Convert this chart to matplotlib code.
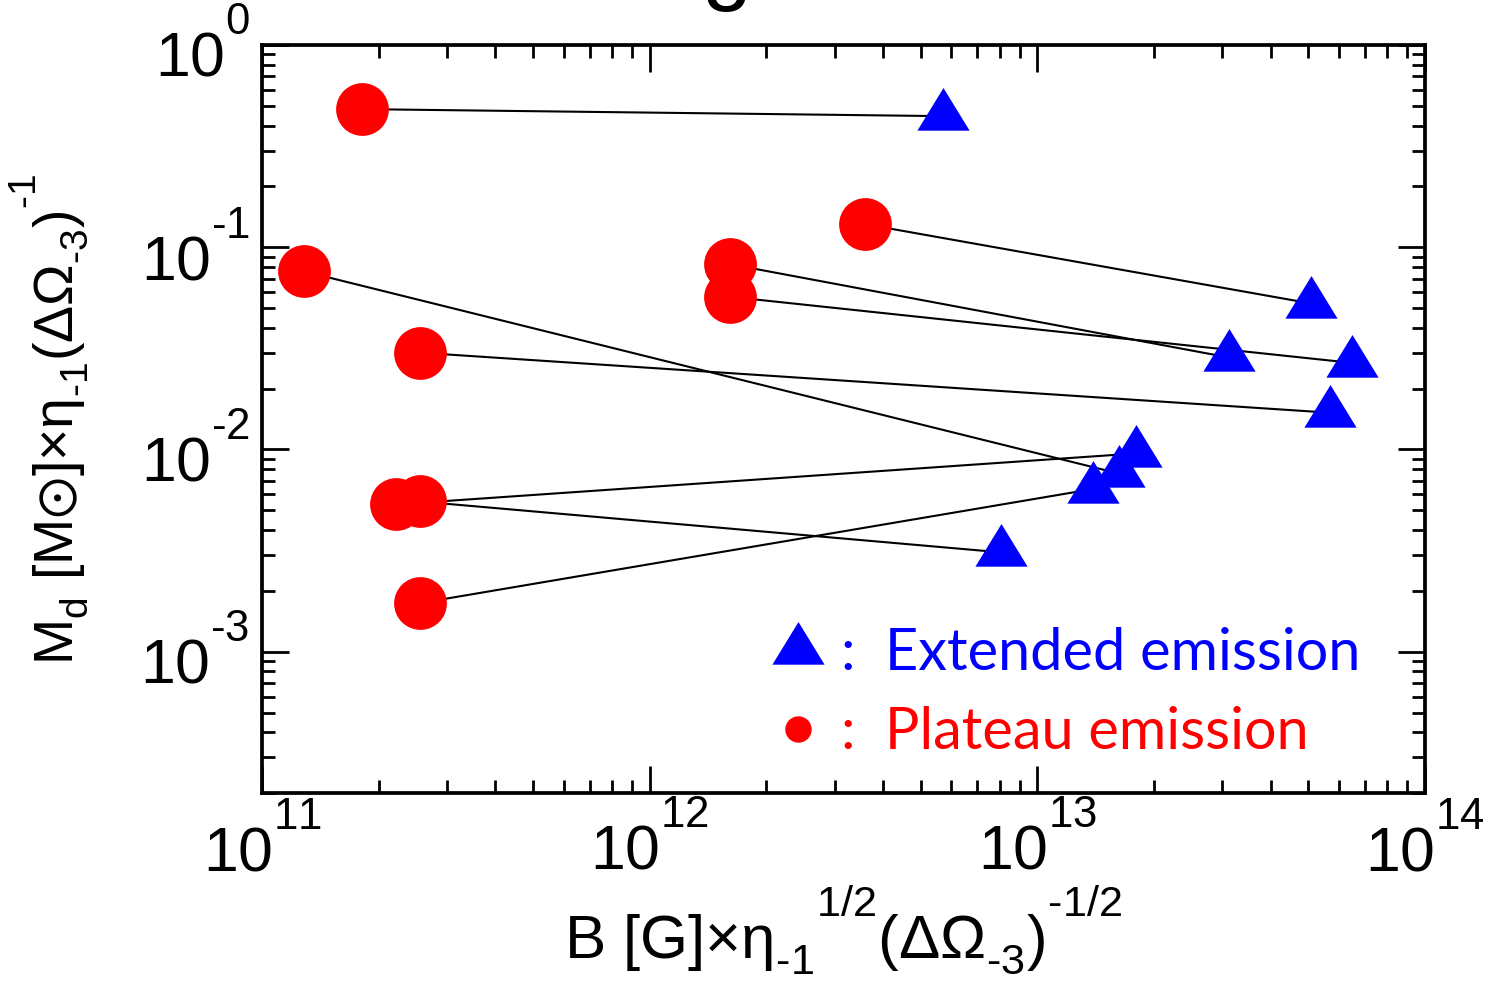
import matplotlib
matplotlib.use("Agg")
import numpy as np
import matplotlib.pyplot as plt
import matplotlib._mathtext as mathtext_internals
from matplotlib.lines import Line2D
from matplotlib.ticker import LogLocator, NullFormatter, FuncFormatter

plt.rcParams["font.family"] = ["Liberation Sans", "DejaVu Sans"]
plt.rcParams["mathtext.fontset"] = "custom"
plt.rcParams["mathtext.rm"] = "Liberation Sans"
plt.rcParams["mathtext.it"] = "Liberation Sans"
plt.rcParams["mathtext.bf"] = "Liberation Sans:bold"
plt.rcParams["mathtext.default"] = "regular"
plt.rcParams["axes.unicode_minus"] = False

# raise exponents / lower indices a bit more than mathtext's defaults
mathtext_internals.FontConstantsBase.sup1 = 1.3
mathtext_internals.FontConstantsBase.sub1 = 0.5

# Magnetar fits: plateau-emission values and the matching extended-emission values
plateau_B = [1.81e11, 3.60e12, 1.61e12, 1.61e12, 2.56e11, 2.22e11, 2.56e11, 1.28e11, 2.56e11]
plateau_M = [0.482, 0.130, 0.0825, 0.0569, 0.0301, 0.00535, 0.00553, 0.0761, 0.00174]
extended_B = [5.70e12, 5.09e13, 3.12e13, 6.49e13, 5.68e13, 1.80e13, 8.06e12, 1.62e13, 1.39e13]
extended_M = [0.445, 0.0527, 0.0285, 0.0268, 0.0152, 0.00956, 0.00310, 0.00761, 0.00637]

legend_labels = [":  Extended emission", ":  Plateau emission"]
x_limits = (1e11, 1e14)
y_limits = (2e-4, 1.0)

HY = "\u2010"  # short hyphen used for negative exponents

# triangle marker anchored at its centroid
tri_marker = [(0.0, 1.0), (-0.9175, -0.4982), (0.9175, -0.4982), (0.0, 1.0)]


def decade_label(v, pos):
    e = int(round(np.log10(v)))
    s = str(e).replace("-", HY)
    return r"$10^{%s}$" % s


fig = plt.figure(figsize=(14.91, 9.81), dpi=100)
ax = fig.add_axes([0.1757, 0.1916, 0.7800, 0.7625])

for pb, pm, eb, em in zip(plateau_B, plateau_M, extended_B, extended_M):
    ax.plot([pb, eb], [pm, em], color="black", lw=1.5, zorder=2)

ax.plot(plateau_B, plateau_M, ls="none", marker="o", ms=38, color="#ff0000",
        mec="none", zorder=3)
ax.plot(extended_B, extended_M, ls="none", marker=tri_marker, ms=41, color="#0000ff",
        mec="none", zorder=4)

ax.set_xscale("log")
ax.set_yscale("log")
ax.set_xlim(*x_limits)
ax.set_ylim(*y_limits)

for axis in (ax.xaxis, ax.yaxis):
    axis.set_major_locator(LogLocator(base=10, numticks=20))
    axis.set_minor_locator(LogLocator(base=10, subs=range(2, 10), numticks=20))
    axis.set_major_formatter(FuncFormatter(decade_label))
    axis.set_minor_formatter(NullFormatter())

ax.tick_params(which="both", direction="in", top=True, right=True, width=2.0,
               labelsize=45)
ax.tick_params(which="major", length=19.5)
ax.tick_params(which="minor", length=9.5)
ax.tick_params(axis="x", pad=9)
ax.tick_params(axis="y", pad=9)
for sp in ax.spines.values():
    sp.set_linewidth(2.7)

ax.set_xlabel(r"$B\ [G]×η_{%s1}{}^{1/2}(ΔΩ_{%s3})^{%s1/2}$" % (HY, HY, HY), fontsize=44.5)
ax.xaxis.set_label_coords(0.5, -0.123)
ax.set_ylabel(r"$M_d\ [M{\odot}]×η_{%s1}(ΔΩ_{%s3})^{%s1}$" % (HY, HY, HY), fontsize=40)
ax.yaxis.set_label_coords(-0.148, 0.5)

handles = [
    Line2D([], [], ls="none", marker=tri_marker, ms=41, color="#0000ff", mec="none"),
    Line2D([], [], ls="none", marker="o", ms=19, color="#ff0000", mec="none"),
]
ax.legend(handles, legend_labels, loc="upper left", bbox_to_anchor=(0.437, 0.222),
          frameon=False, prop={"family": "Lato", "size": 41.5}, handlelength=0.95,
          handletextpad=0.28, labelspacing=0.45, borderpad=0, borderaxespad=0,
          labelcolor=["#0000ff", "#ff0000"])

# descender of the page heading above the plot
fig.text(0.487, 1.007, "g", fontsize=65, ha="center", va="baseline")

fig.savefig("out.png", dpi=100)
